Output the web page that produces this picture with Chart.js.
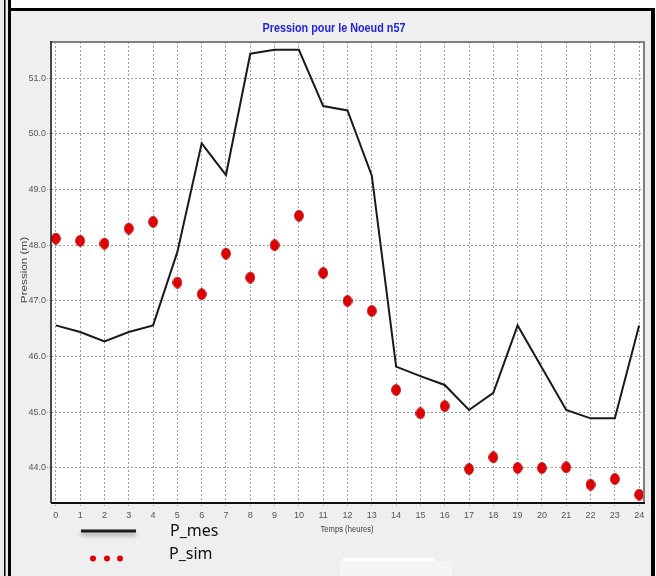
<!DOCTYPE html>
<html><head><meta charset="utf-8">
<script src="https://cdn.jsdelivr.net/npm/chart.js@4.4.1/dist/chart.umd.min.js"></script>
<style>html,body{margin:0;padding:0;background:#fff;}#wrap{width:656px;height:576px;}</style>
</head><body><div id="wrap"><canvas id="c" width="656" height="576"></canvas></div>
<script>
const hours = [0,1,2,3,4,5,6,7,8,9,10,11,12,13,14,15,16,17,18,19,20,21,22,23,24];
const pMes = [46.56,46.44,46.27,46.44,46.56,47.88,49.83,49.26,51.44,51.51,51.51,50.50,50.42,49.25,45.82,45.65,45.49,45.04,45.35,46.56,45.80,45.04,44.89,44.89,46.56];
const pSim = [48.12,48.08,48.03,48.30,48.42,47.33,47.12,47.85,47.42,48.00,48.53,47.50,47.00,46.82,45.40,44.98,45.11,43.98,44.19,44.00,44.00,44.01,43.70,43.80,43.52];
const yTicks = [44,45,46,47,48,49,50,51];
const seriesLabels = ['P_mes','P_sim'];
const titleText = 'Pression pour le Noeud n57';
const xTitle = 'Temps (heures)';
const yTitle = 'Pression (m)';

const SANS = "'Liberation Sans',Arial,sans-serif";

// oval red marker
const dot = document.createElement('canvas');
dot.width = 10; dot.height = 12;
(function(){
  const g = dot.getContext('2d');
  g.beginPath(); g.ellipse(5,6,4.4,5.4,0,0,Math.PI*2);
  g.fillStyle = '#e00000'; g.fill();
  g.lineWidth = 0.8; g.strokeStyle = '#a80000'; g.stroke();
})();

const decor = {
  id: 'decor',
  beforeDraw(chart) {
    const ctx = chart.ctx, a = chart.chartArea;
    ctx.save();
    ctx.fillStyle = '#ffffff'; ctx.fillRect(0,0,656,576);
    ctx.fillStyle = '#efefef'; ctx.fillRect(0,8,656,568);
    ctx.fillStyle = '#ffffff'; ctx.fillRect(655,0,1,576);
    ctx.fillStyle = '#e9e9e9'; ctx.fillRect(0,0,8,576);
    ctx.fillStyle = '#000';
    ctx.fillRect(4,0,1.5,576);
    ctx.fillRect(8,0,3,576);
    ctx.fillRect(8,8,647,3);
    ctx.fillRect(651,8,4,568);
    ctx.fillStyle = '#f5f5f5'; ctx.fillRect(340,561,112,15);
    ctx.fillStyle = '#ffffff'; ctx.fillRect(343,558,91,3);
    ctx.fillStyle = '#ffffff';
    ctx.fillRect(a.left, a.top, a.right-a.left, a.bottom-a.top);
    ctx.restore();
  },
  afterDraw(chart) {
    const ctx = chart.ctx, a = chart.chartArea;
    ctx.save();
    ctx.strokeStyle = '#808080'; ctx.lineWidth = 2;
    ctx.beginPath(); ctx.moveTo(a.left, a.top); ctx.lineTo(a.right, a.top); ctx.lineTo(a.right, a.bottom); ctx.stroke();
    ctx.strokeStyle = '#111'; ctx.lineWidth = 1.5;
    ctx.beginPath(); ctx.moveTo(a.left, a.top-1); ctx.lineTo(a.left, a.bottom); ctx.stroke();
    ctx.lineWidth = 2;
    ctx.beginPath(); ctx.moveTo(a.left, a.bottom); ctx.lineTo(a.right+1, a.bottom); ctx.stroke();
    // title
    ctx.textAlign = 'center'; ctx.textBaseline = 'middle';
    ctx.save();
    ctx.fillStyle = '#2424d6';
    ctx.font = 'bold 12px ' + SANS;
    ctx.translate(334, 28); ctx.scale(0.9, 1.1);
    ctx.fillText(titleText, 0, 0);
    ctx.restore();
    // x title
    ctx.fillStyle = '#444';
    ctx.font = '9px ' + SANS;
    ctx.save();
    ctx.translate(347, 529); ctx.scale(0.85, 1.1);
    ctx.fillText(xTitle, 0, 0);
    ctx.restore();
    // y title
    ctx.save();
    ctx.translate(25, 270); ctx.rotate(-Math.PI/2); ctx.scale(1.3, 0.95);
    ctx.fillText(yTitle, 0, 0);
    ctx.restore();
    // legend
    const ds = chart.data.datasets;
    ctx.save();
    ctx.shadowColor = 'rgba(0,0,0,0.35)'; ctx.shadowBlur = 4; ctx.shadowOffsetY = 3;
    ctx.strokeStyle = ds[0].borderColor; ctx.lineWidth = 3;
    ctx.beginPath(); ctx.moveTo(81, 531); ctx.lineTo(136, 531); ctx.stroke();
    ctx.restore();
    ctx.fillStyle = '#dd0000';
    [93,107,120].forEach(x => { ctx.beginPath(); ctx.arc(x, 558.5, 3, 0, Math.PI*2); ctx.fill(); });
    ctx.fillStyle = '#111';
    ctx.font = '16px "Noto Sans", sans-serif';
    ctx.textAlign = 'left'; ctx.textBaseline = 'middle';
    ctx.fillText(ds[0].label, 170, 531);
    ctx.fillText(ds[1].label, 169, 554);
    ctx.restore();
  }
};

new Chart(document.getElementById('c'), {
  type: 'line',
  data: {
    datasets: [
      { label: seriesLabels[0], data: hours.map((h,i)=>({x:h,y:pMes[i]})), borderColor: '#1a1a1a', borderWidth: 2, pointRadius: 0, tension: 0, fill: false },
      { label: seriesLabels[1], data: hours.map((h,i)=>({x:h,y:pSim[i]})), showLine: false, pointStyle: dot, pointRadius: 5, borderColor: '#a80000', backgroundColor: '#e00000' }
    ]
  },
  options: {
    responsive: false, animation: false, devicePixelRatio: 1,
    layout: { padding: { left: 0, top: 42, right: 12, bottom: 0 } },
    plugins: { legend: { display: false }, title: { display: false }, tooltip: { enabled: false } },
    scales: {
      x: {
        type: 'linear', min: -0.2, max: 24.2,
        afterBuildTicks: s => { s.ticks = hours.map(v => ({ value: v })); },
        afterFit: s => { s.height = 73; },
        grid: { color: '#a0a0a0', lineWidth: 1, drawTicks: true, tickLength: 4, tickColor: '#999', tickBorderDash: [1,1] },
        border: { display: false, dash: [2,2] },
        ticks: { color: '#555', font: { family: SANS, size: 9 }, padding: 3, maxRotation: 0, autoSkip: false, callback: v => String(v) }
      },
      y: {
        type: 'linear', min: 43.37, max: 51.65,
        afterBuildTicks: s => { s.ticks = yTicks.map(v => ({ value: v })); },
        afterFit: s => { s.width = 51; },
        grid: { color: '#a0a0a0', lineWidth: 1, drawTicks: true, tickLength: 4, tickColor: '#999', tickBorderDash: [1,1] },
        border: { display: false, dash: [2,2] },
        ticks: { color: '#555', font: { family: SANS, size: 9 }, padding: 1, callback: v => v.toFixed(1) }
      }
    }
  },
  plugins: [decor]
});
</script></body></html>
